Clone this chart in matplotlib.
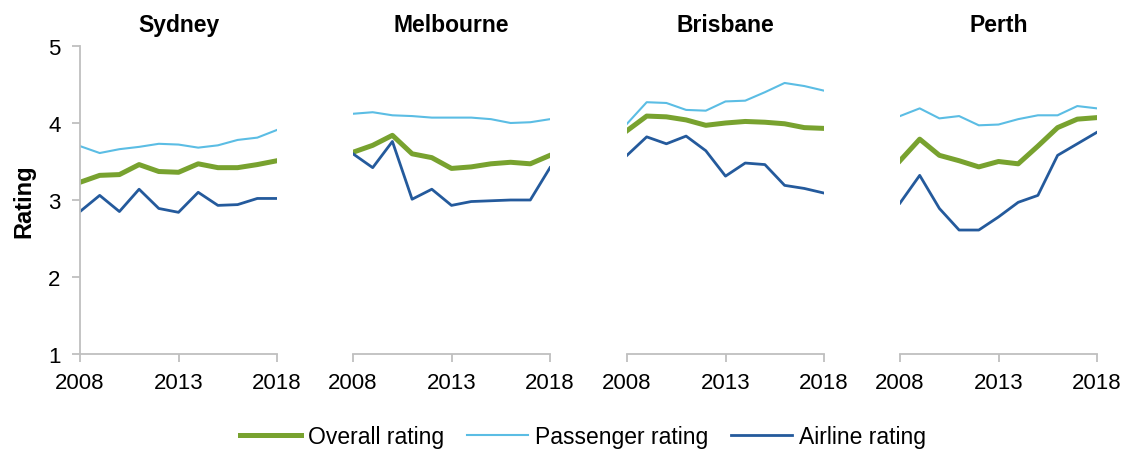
import matplotlib.pyplot as plt
import numpy as np

plt.rcParams['font.family'] = ['Liberation Sans', 'DejaVu Sans']

years = np.arange(2008, 2019)
cities = ['Sydney', 'Melbourne', 'Brisbane', 'Perth']

overall = {
    'Sydney':    [3.23, 3.32, 3.33, 3.46, 3.37, 3.36, 3.47, 3.42, 3.42, 3.46, 3.51],
    'Melbourne': [3.62, 3.71, 3.84, 3.60, 3.55, 3.41, 3.43, 3.47, 3.49, 3.47, 3.58],
    'Brisbane':  [3.90, 4.09, 4.08, 4.04, 3.97, 4.00, 4.02, 4.01, 3.99, 3.94, 3.93],
    'Perth':     [3.51, 3.79, 3.58, 3.51, 3.43, 3.50, 3.47, 3.70, 3.94, 4.05, 4.07],
}
passenger = {
    'Sydney':    [3.70, 3.61, 3.66, 3.69, 3.73, 3.72, 3.68, 3.71, 3.78, 3.81, 3.91],
    'Melbourne': [4.12, 4.14, 4.10, 4.09, 4.07, 4.07, 4.07, 4.05, 4.00, 4.01, 4.05],
    'Brisbane':  [3.99, 4.27, 4.26, 4.17, 4.16, 4.28, 4.29, 4.40, 4.52, 4.48, 4.42],
    'Perth':     [4.09, 4.19, 4.06, 4.09, 3.97, 3.98, 4.05, 4.10, 4.10, 4.22, 4.19],
}
airline = {
    'Sydney':    [2.85, 3.06, 2.85, 3.14, 2.89, 2.84, 3.10, 2.93, 2.94, 3.02, 3.02],
    'Melbourne': [3.60, 3.42, 3.76, 3.01, 3.14, 2.93, 2.98, 2.99, 3.00, 3.00, 3.42],
    'Brisbane':  [3.58, 3.82, 3.73, 3.83, 3.64, 3.31, 3.48, 3.46, 3.19, 3.15, 3.09],
    'Perth':     [2.96, 3.32, 2.89, 2.61, 2.61, 2.78, 2.97, 3.06, 3.58, 3.73, 3.88],
}

green = '#78A22F'
light = '#5BBDE4'
dark = '#245A9C'
grey = '#BFBFBF'

fig = plt.figure(figsize=(11.32, 4.52), dpi=100)
lefts = [80, 353, 627, 900]
for i, city in enumerate(cities):
    ax = fig.add_axes([lefts[i] / 1132, 1 - 355 / 452, 197 / 1132, 308 / 452])
    l1, = ax.plot(years, overall[city], color=green, lw=3.6, label='Overall rating')
    l2, = ax.plot(years, passenger[city], color=light, lw=1.5, label='Passenger rating')
    l3, = ax.plot(years, airline[city], color=dark, lw=2.0, label='Airline rating')
    ax.set_xlim(2008, 2018)
    ax.set_ylim(1, 5)
    ax.set_xticks([2008, 2013, 2018])
    ax.set_yticks([1, 2, 3, 4, 5])
    ax.set_title(city, fontsize=16.5, fontweight='bold', pad=11)
    for s in ['top', 'right']:
        ax.spines[s].set_visible(False)
    for s in ['bottom', 'left']:
        ax.spines[s].set_color(grey)
        ax.spines[s].set_linewidth(1.3)
    ax.tick_params(axis='both', colors=grey, labelcolor='black', labelsize=16,
                   length=6, width=1.3)
    ax.tick_params(axis='y', pad=8)
    ax.tick_params(axis='x', pad=7)
    if i == 0:
        ax.set_ylabel('Rating', fontsize=17, fontweight='bold', labelpad=9)
    else:
        ax.spines['left'].set_visible(False)
        ax.tick_params(axis='y', left=False, labelleft=False)

fig.legend([l1, l2, l3], ['Overall rating', 'Passenger rating', 'Airline rating'],
           loc='center', bbox_to_anchor=(583 / 1132, 1 - 438 / 452), ncol=3,
           frameon=False, fontsize=16.5, handlelength=2.66, handletextpad=0.3,
           columnspacing=1.0, borderpad=0)

fig.savefig('out.png', dpi=100)
